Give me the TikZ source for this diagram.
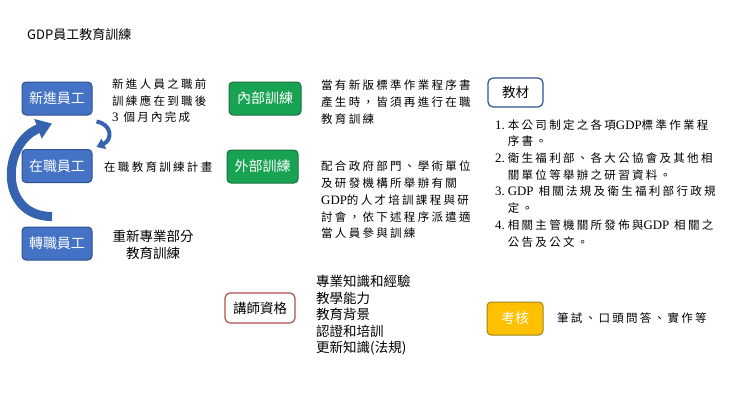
\documentclass[tikz,border=0pt]{standalone}
\usepackage{fontspec}
\setmainfont{Noto Sans CJK TC}
\newfontfamily\latinserif[Scale=1.12]{Liberation Serif}
\usetikzlibrary{arrows.meta}
\definecolor{BoxBlue}{HTML}{4472C4}
\definecolor{LineBlue}{HTML}{2F528F}
\definecolor{ArrowBlue}{HTML}{3563B0}
\definecolor{BoxGreen}{HTML}{18A352}
\definecolor{LineGreen}{HTML}{17703F}
\definecolor{BoxGold}{HTML}{FFC000}
\definecolor{LineGold}{HTML}{9C8420}
\definecolor{LineRed}{HTML}{B0504D}

\tikzset{
  staffbox/.style={rectangle, rounded corners=4pt, fill=BoxBlue, draw=LineBlue, line width=1pt,
    text=white, minimum width=70pt, minimum height=33pt, inner sep=0pt, font=\fontsize{14}{16}\selectfont},
  trainbox/.style={staffbox, fill=BoxGreen, draw=LineGreen, minimum width=72pt},
  plainbox/.style={rectangle, rounded corners=5pt, fill=white, line width=1.2pt, text=black,
    inner sep=0pt, font=\fontsize{13.5}{16}\selectfont},
  spaced/.style={inner sep=0pt, align=left,
    font=\fontsize{11.5}{16.7}\selectfont\addfontfeature{LetterSpace=20}},
  sanslist/.style={inner sep=0pt, align=left, font=\fontsize{13.5}{16.5}\selectfont},
  turnarrow/.style={draw=ArrowBlue, line width=#1}
}

\begin{document}
\begin{tikzpicture}[x=1pt,y=-1pt]
        \useasboundingbox (0,0) rectangle (740,416);

        \node[anchor=west, inner sep=0pt, font=\fontsize{13}{15}\selectfont] (title) at (27,35) {GDP員工教育訓練};

        % staff
        \node[staffbox] (xinjin) at (57,98.5) {新進員工};
        \node[staffbox] (zaizhi) at (57,166) {在職員工};
        \node[staffbox] (zhuanzhi) at (57,243.5) {轉職員工};

        \node[spaced, anchor=north west] (xinjintext) at (112,78.5)
            {新進人員之職前\\訓練應在到職後\\{\latinserif 3} 個月內完成};
        \node[spaced, anchor=west] (zaizhitext) at (104,167) {在職教育訓練計畫};
        \node[sanslist, align=center, anchor=north] (zhuanzhitext) at (153,230)
            {重新專業部分\\教育訓練};

        \draw[turnarrow=9pt, -{Triangle[width=20pt,length=15pt]}]
            ([shift={(-5,-10)}]zhuanzhi.north) .. controls +(-54,0) and +(-50,19) .. ([shift={(-5,8)}]xinjin.south);
        \draw[turnarrow=4pt, -{Triangle[width=11pt,length=8pt]}]
            ([shift={(4,6)}]xinjin.south east) .. controls +(16,3) and +(16,-7) .. ([shift={(4,-2)}]zaizhi.north east);

        % training
        \node[trainbox] (neibu) at (265,98.5) {內部訓練};
        \node[trainbox, minimum width=71pt] (waibu) at (262.5,166.5) {外部訓練};

        \node[spaced, anchor=north west] (neibutext) at (321,80)
            {當有新版標準作業程序書\\產生時，皆須再進行在職\\教育訓練};
        \node[spaced, anchor=north west] (waibutext) at (321,161)
            {配合政府部門、學術單位\\及研發機構所舉辦有關\\{\latinserif GDP}的人才培訓課程與研\\討會，依下述程序派遣適\\當人員參與訓練};

        % materials
        \node[plainbox, draw=LineBlue, minimum width=55pt, minimum height=29pt] (jiaocai) at (515.5,92.5) {教材};
        \node[spaced, anchor=north west] (jiaocaitext) at (495,117.3)
            {\begin{tabular}{@{}l@{\hspace{3pt}}l@{}}
             {\latinserif 1.} & 本公司制定之各項{\latinserif GDP}標準作業程\\
                              & 序書。\\
             {\latinserif 2.} & 衛生福利部、各大公協會及其他相\\
                              & 關單位等舉辦之研習資料。\\
             {\latinserif 3.} & {\latinserif GDP} 相關法規及衛生福利部行政規\\
                              & 定。\\
             {\latinserif 4.} & 相關主管機關所發佈與{\latinserif GDP} 相關之\\
                              & 公告及公文。
             \end{tabular}};

        % teachers and assessment
        \node[plainbox, draw=LineRed, minimum width=70pt, minimum height=30pt] (jiangshi) at (260,308) {講師資格};
        \node[sanslist, anchor=north west] (jiangshitext) at (316,275.3)
            {專業知識和經驗\\教學能力\\教育背景\\認證和培訓\\更新知識(法規)};

        \node[staffbox, fill=BoxGold, draw=LineGold, text=white, minimum width=56pt] (kaohe) at (515,318.5) {考核};
        \node[spaced, anchor=west] (kaohetext) at (557,318)
            {筆試、口頭問答、實作等};
\end{tikzpicture}
\end{document}
